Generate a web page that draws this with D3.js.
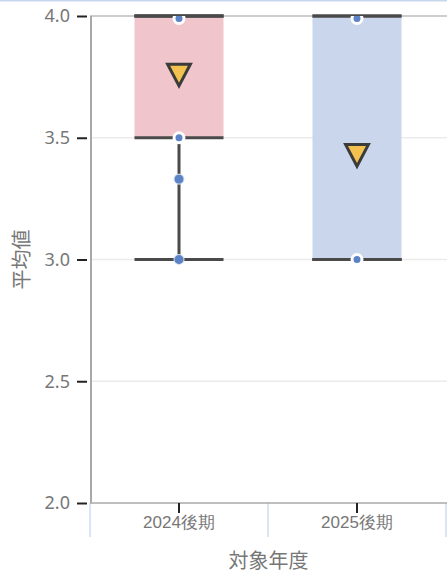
<!DOCTYPE html>
<html>
<head>
<meta charset="utf-8">
<script src="https://cdn.jsdelivr.net/npm/d3@7"></script>
<style>
  body { margin: 0; background: #fff; }
  svg { display: block; font-family: "Noto Sans CJK JP", "Noto Sans", sans-serif; }
</style>
</head>
<body>
<div id="chart"></div>
<script>
// chart data
var categories = ['2024後期', '2025後期'];
var q1 = [3.5, 3.0];
var medians = [4.0, 3.0];
var q3 = [4.0, 4.0];
var lowerFence = [3.0, 3.0];
var upperFence = [4.0, 4.0];
var means = [3.76, 3.43];
var points = [
  [3.99, 3.5, 3.33, 3.0],
  [3.99, 3.0]
];
var yTicks = [2.0, 2.5, 3.0, 3.5, 4.0];

// layout constants
var width = 447,
    height = 573,
    plotLeft = 90,
    plotRight = 446,
    plotTop = 16,
    plotBottom = 503,
    boxFills = ['#f0c6cc', '#c9d6eb'],
    lineColor = '#4a4a4a',
    dotColor = '#5b83c6',
    labelColor = '#777';

var svg = d3.select('#chart').append('svg')
  .attr('width', width)
  .attr('height', height);

// clip marks to the plot area
svg.append('defs').append('clipPath')
  .attr('id', 'plotClip')
  .append('rect')
  .attr('x', plotLeft).attr('y', plotTop)
  .attr('width', width - plotLeft).attr('height', plotBottom - plotTop);

var x = d3.scaleBand().domain(categories).range([plotLeft, plotRight]);
var y = d3.scaleLinear().domain([2, 4]).range([plotBottom, plotTop]);

// top border of container
svg.append('line')
  .attr('x1', 0).attr('x2', width)
  .attr('y1', 0.5).attr('y2', 0.5)
  .attr('stroke', '#c8d7ee').attr('stroke-width', 2);

// gridlines
svg.append('g').selectAll('line')
  .data(yTicks.filter(function(d){ return d > 2; }))
  .enter().append('line')
  .attr('x1', plotLeft).attr('x2', width)
  .attr('y1', function(d){ return y(d); })
  .attr('y2', function(d){ return y(d); })
  .attr('stroke', function(d){ return d === 4 ? '#bdbdbd' : '#ebebeb'; })
  .attr('stroke-width', 1.5);

// category separators under the axis
var seps = categories.map(function(c){ return x(c); }).concat([x(categories[categories.length-1]) + x.bandwidth()]);
svg.append('g').selectAll('line')
  .data(seps)
  .enter().append('line')
  .attr('x1', function(d){ return d; }).attr('x2', function(d){ return d; })
  .attr('y1', plotBottom).attr('y2', 537)
  .attr('stroke', '#cfdcf1').attr('stroke-width', 1.5);

// boxes
var boxW = x.bandwidth() * 0.5;
var boxes = svg.append('g').selectAll('g')
  .data(categories)
  .enter().append('g');

boxes.append('rect')
  .attr('x', function(d){ return x(d) + x.bandwidth()/2 - boxW/2; })
  .attr('width', boxW)
  .attr('y', function(d, i){ return y(q3[i]); })
  .attr('height', function(d, i){ return y(q1[i]) - y(q3[i]); })
  .attr('fill', function(d, i){ return boxFills[i]; });

// whisker stems
boxes.append('line')
  .attr('x1', function(d){ return x(d) + x.bandwidth()/2; })
  .attr('x2', function(d){ return x(d) + x.bandwidth()/2; })
  .attr('y1', function(d, i){ return y(lowerFence[i]); })
  .attr('y2', function(d, i){ return y(q1[i]); })
  .attr('stroke', lineColor).attr('stroke-width', 3);
boxes.append('line')
  .attr('x1', function(d){ return x(d) + x.bandwidth()/2; })
  .attr('x2', function(d){ return x(d) + x.bandwidth()/2; })
  .attr('y1', function(d, i){ return y(upperFence[i]); })
  .attr('y2', function(d, i){ return y(q3[i]); })
  .attr('stroke', lineColor).attr('stroke-width', 3);

// horizontal lines: fences, quartiles, median
function hLine(vals) {
  boxes.append('line')
    .attr('x1', function(d){ return x(d) + x.bandwidth()/2 - boxW/2; })
    .attr('x2', function(d){ return x(d) + x.bandwidth()/2 + boxW/2; })
    .attr('y1', function(d, i){ return y(vals[i]); })
    .attr('y2', function(d, i){ return y(vals[i]); })
    .attr('stroke', lineColor).attr('stroke-width', 3);
}
hLine(lowerFence);
hLine(upperFence);
hLine(q1);
hLine(q3);
hLine(medians);

// data points
boxes.each(function(c, i){
  d3.select(this).append('g')
    .attr('clip-path', 'url(#plotClip)')
    .selectAll('circle')
    .data(points[i])
    .enter().append('circle')
    .attr('cx', x(c) + x.bandwidth()/2)
    .attr('cy', function(v){ return y(v); })
    .attr('r', 5)
    .attr('fill', dotColor)
    .attr('stroke', function(v){ return (v >= q1[i] && v <= q3[i]) ? '#fff' : '#dde6f4'; })
    .attr('stroke-width', function(v){ return (v >= q1[i] && v <= q3[i]) ? 3 : 1; });
});

// mean markers (down triangles)
var tri = 12;
boxes.append('path')
  .attr('d', function(d, i){
    var cx = x(d) + x.bandwidth()/2, cy = y(means[i]);
    return 'M' + (cx - tri*0.95) + ',' + (cy - tri*0.85) +
           'L' + (cx + tri*0.95) + ',' + (cy - tri*0.85) +
           'L' + cx + ',' + (cy + tri*0.95) + 'Z';
  })
  .attr('fill', '#f3c14f')
  .attr('stroke', '#3b3b3b')
  .attr('stroke-width', 3)
  .attr('stroke-linejoin', 'miter');

// y axis
svg.append('line')
  .attr('x1', plotLeft + 1).attr('x2', plotLeft + 1)
  .attr('y1', plotTop).attr('y2', plotBottom)
  .attr('stroke', '#a8a8a8').attr('stroke-width', 2);

var yAxis = svg.append('g')
  .attr('transform', 'translate(' + (plotLeft - 3) + ',0)')
  .call(d3.axisLeft(y).tickValues(yTicks).tickFormat(d3.format('.1f')).tickSize(10).tickPadding(7));
yAxis.select('.domain').remove();
yAxis.selectAll('.tick line').attr('stroke', '#222').attr('stroke-width', 2);
yAxis.selectAll('.tick text')
  .attr('fill', labelColor)
  .style('font-size', '18px')
  .style('font-family', '"Noto Sans", sans-serif');

// x axis
svg.append('line')
  .attr('x1', plotLeft).attr('x2', width)
  .attr('y1', plotBottom).attr('y2', plotBottom)
  .attr('stroke', '#a8a8a8').attr('stroke-width', 1.5);

var xAxis = svg.append('g')
  .attr('transform', 'translate(0,' + plotBottom + ')')
  .call(d3.axisBottom(x).tickSize(10).tickPadding(3));
xAxis.select('.domain').remove();
xAxis.selectAll('.tick line').attr('stroke', '#222').attr('stroke-width', 2);
xAxis.selectAll('.tick text')
  .attr('fill', labelColor)
  .style('font-size', '17px');

// axis titles
svg.append('text')
  .attr('transform', 'translate(29,' + ((plotTop + plotBottom)/2) + ') rotate(-90)')
  .attr('text-anchor', 'middle')
  .attr('fill', labelColor)
  .style('font-size', '20px')
  .text('平均値');

svg.append('text')
  .attr('x', (plotLeft + width)/2)
  .attr('y', 568)
  .attr('text-anchor', 'middle')
  .attr('fill', labelColor)
  .style('font-size', '20px')
  .text('対象年度');
</script>
</body>
</html>
